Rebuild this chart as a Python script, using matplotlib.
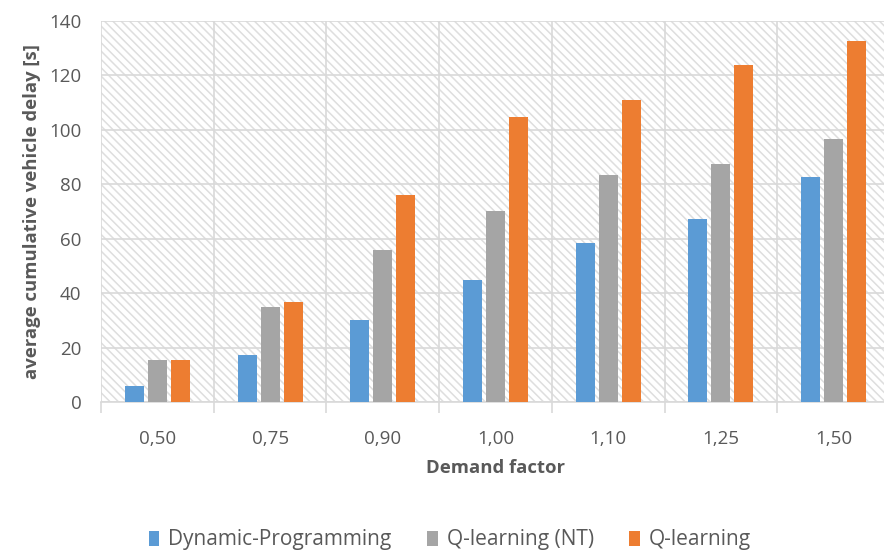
import numpy as np
import matplotlib.pyplot as plt
from matplotlib.patches import Rectangle

plt.rcParams['font.family'] = ['Open Sans', 'DejaVu Sans']
plt.rcParams['hatch.linewidth'] = 1.1

factors = ['0,50', '0,75', '0,90', '1,00', '1,10', '1,25', '1,50']
dp = [5.9, 17.2, 30.0, 44.8, 58.4, 67.3, 82.5]
ql_nt = [15.4, 34.8, 56.0, 70.0, 83.4, 87.5, 96.7]
ql = [15.4, 36.6, 76.0, 104.7, 111.0, 123.8, 132.8]

series = [('Dynamic-Programming', dp, '#5B9BD5'),
          ('Q-learning (NT)', ql_nt, '#A5A5A5'),
          ('Q-learning', ql, '#ED7D31')]

fig = plt.figure(figsize=(8.84, 5.51), dpi=100)
ax = fig.add_axes([101/884, (551-402)/551, 789/884, 381/551])

# hatched plot background
bg = Rectangle((0, 0), 1, 1, transform=ax.transAxes, facecolor='white',
               edgecolor='#dedede', hatch='\\\\\\\\', linewidth=0, zorder=0)
ax.add_patch(bg)
ax.patch.set_visible(False)

x = np.arange(len(factors))
w = 0.168
step = 0.204
for i, (name, vals, col) in enumerate(series):
    ax.bar(x + (i - 1) * step, vals, width=w, color=col, label=name, zorder=3)

ax.set_xlim(-0.5, len(factors) - 0.5)
ax.set_ylim(0, 140)
ax.set_yticks(np.arange(0, 141, 20))
ax.set_xticks(x)
ax.set_xticklabels(factors)
ax.set_xticks(np.arange(-0.5, len(factors)), minor=True)

ax.grid(axis='y', color='#d9d9d9', linewidth=1.2, zorder=1)
ax.grid(axis='x', which='minor', color='#d9d9d9', linewidth=1.2, zorder=1)
ax.grid(axis='x', which='major', visible=False)
ax.set_axisbelow(True)

for s in ['top', 'right', 'left']:
    ax.spines[s].set_visible(False)
ax.spines['bottom'].set_color('#d9d9d9')
ax.spines['bottom'].set_linewidth(1.2)

ax.tick_params(axis='x', which='major', length=0, pad=20, labelsize=13.5, labelcolor='#595959')
ax.tick_params(axis='x', which='minor', length=8, width=1.2, color='#d9d9d9')
ax.tick_params(axis='y', length=0, pad=14, labelsize=13.5, labelcolor='#595959')

ax.set_xlabel('Demand factor', fontsize=13.3, fontweight='bold', color='#595959', labelpad=8)
ax.set_ylabel('average cumulative vehicle delay [s]', fontsize=13.3, fontweight='bold',
              color='#595959', labelpad=6)

fig.legend(loc='center', bbox_to_anchor=(450/884, 1 - 540/551), ncol=3, frameon=False,
           fontsize=15, labelcolor='#595959', handlelength=0.5, handleheight=0.7,
           handletextpad=0.45, columnspacing=1.7)

fig.savefig('out.png', dpi=100)
